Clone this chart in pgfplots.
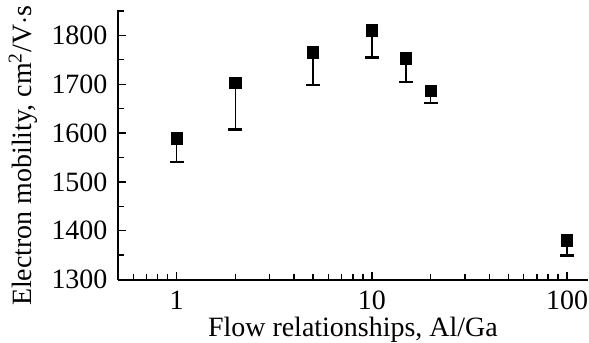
\documentclass[border=0pt]{standalone}
\usepackage{fontspec}
\setmainfont{Liberation Serif}
\usepackage{pgfplots}
\pgfplotsset{compat=1.18}
\begin{document}
\fontsize{14bp}{16bp}\selectfont
\begin{tikzpicture}
\begin{axis}[
  scale only axis,
  width=235.5bp, height=135bp,
  xmode=log, log basis x=10,
  xmin=0.5, xmax=128,
  ymin=1300, ymax=1852,
  axis lines=left,
  axis line style={-, line width=1bp},
  xtick={1,10,100}, xticklabels={1,10,100},
  minor xtick={0.6,0.7,0.8,0.9,2,3,4,5,6,7,8,9,20,30,40,50,60,70,80,90},
  ytick={1300,1400,...,1800},
  minor ytick={1350,1450,...,1850},
  tick style={line width=0.7bp, black},
  major tick length=4bp, minor tick length=3bp,
  tick align=inside,
  /pgf/number format/assume math mode=true,
  yticklabel style={/pgf/number format/1000 sep={}, inner sep=0pt, xshift=-5bp},
  xticklabel style={inner sep=0pt, yshift=-5.5bp},
  ticklabel style={font=\fontsize{14bp}{16bp}\selectfont},
  label style={font=\fontsize{14bp}{16bp}\selectfont},
  xlabel={Flow relationships, Al/Ga},
  ylabel={Electron mobility, cm\textsuperscript{2}/V$\cdot$s},
  xlabel style={at={(axis description cs:0.5,0)}, anchor=base, inner sep=0pt, yshift=-28.4bp},
  ylabel style={at={(axis description cs:-0.1826,0.459)}, anchor=base, inner sep=0pt},
  clip=false,
]
\addplot[only marks, mark=square*, mark size=2.8bp, black,
  error bars/.cd, y dir=minus, y explicit, error mark=|,
  error bar style={line width=0.8bp, black},
  error mark options={line width=1.2bp, mark size=3.5bp, black}]
  table[x=x, y=y, y error minus=e] {
x y e
1 1589 48
2 1702 95
5 1765 67
10 1810 55
15 1753 49
20 1687 26
100 1380 31
};
\end{axis}
\path ([yshift=5bp]current axis.north west);
\path ([xshift=-59bp]current axis.south west);
\end{tikzpicture}
\end{document}
